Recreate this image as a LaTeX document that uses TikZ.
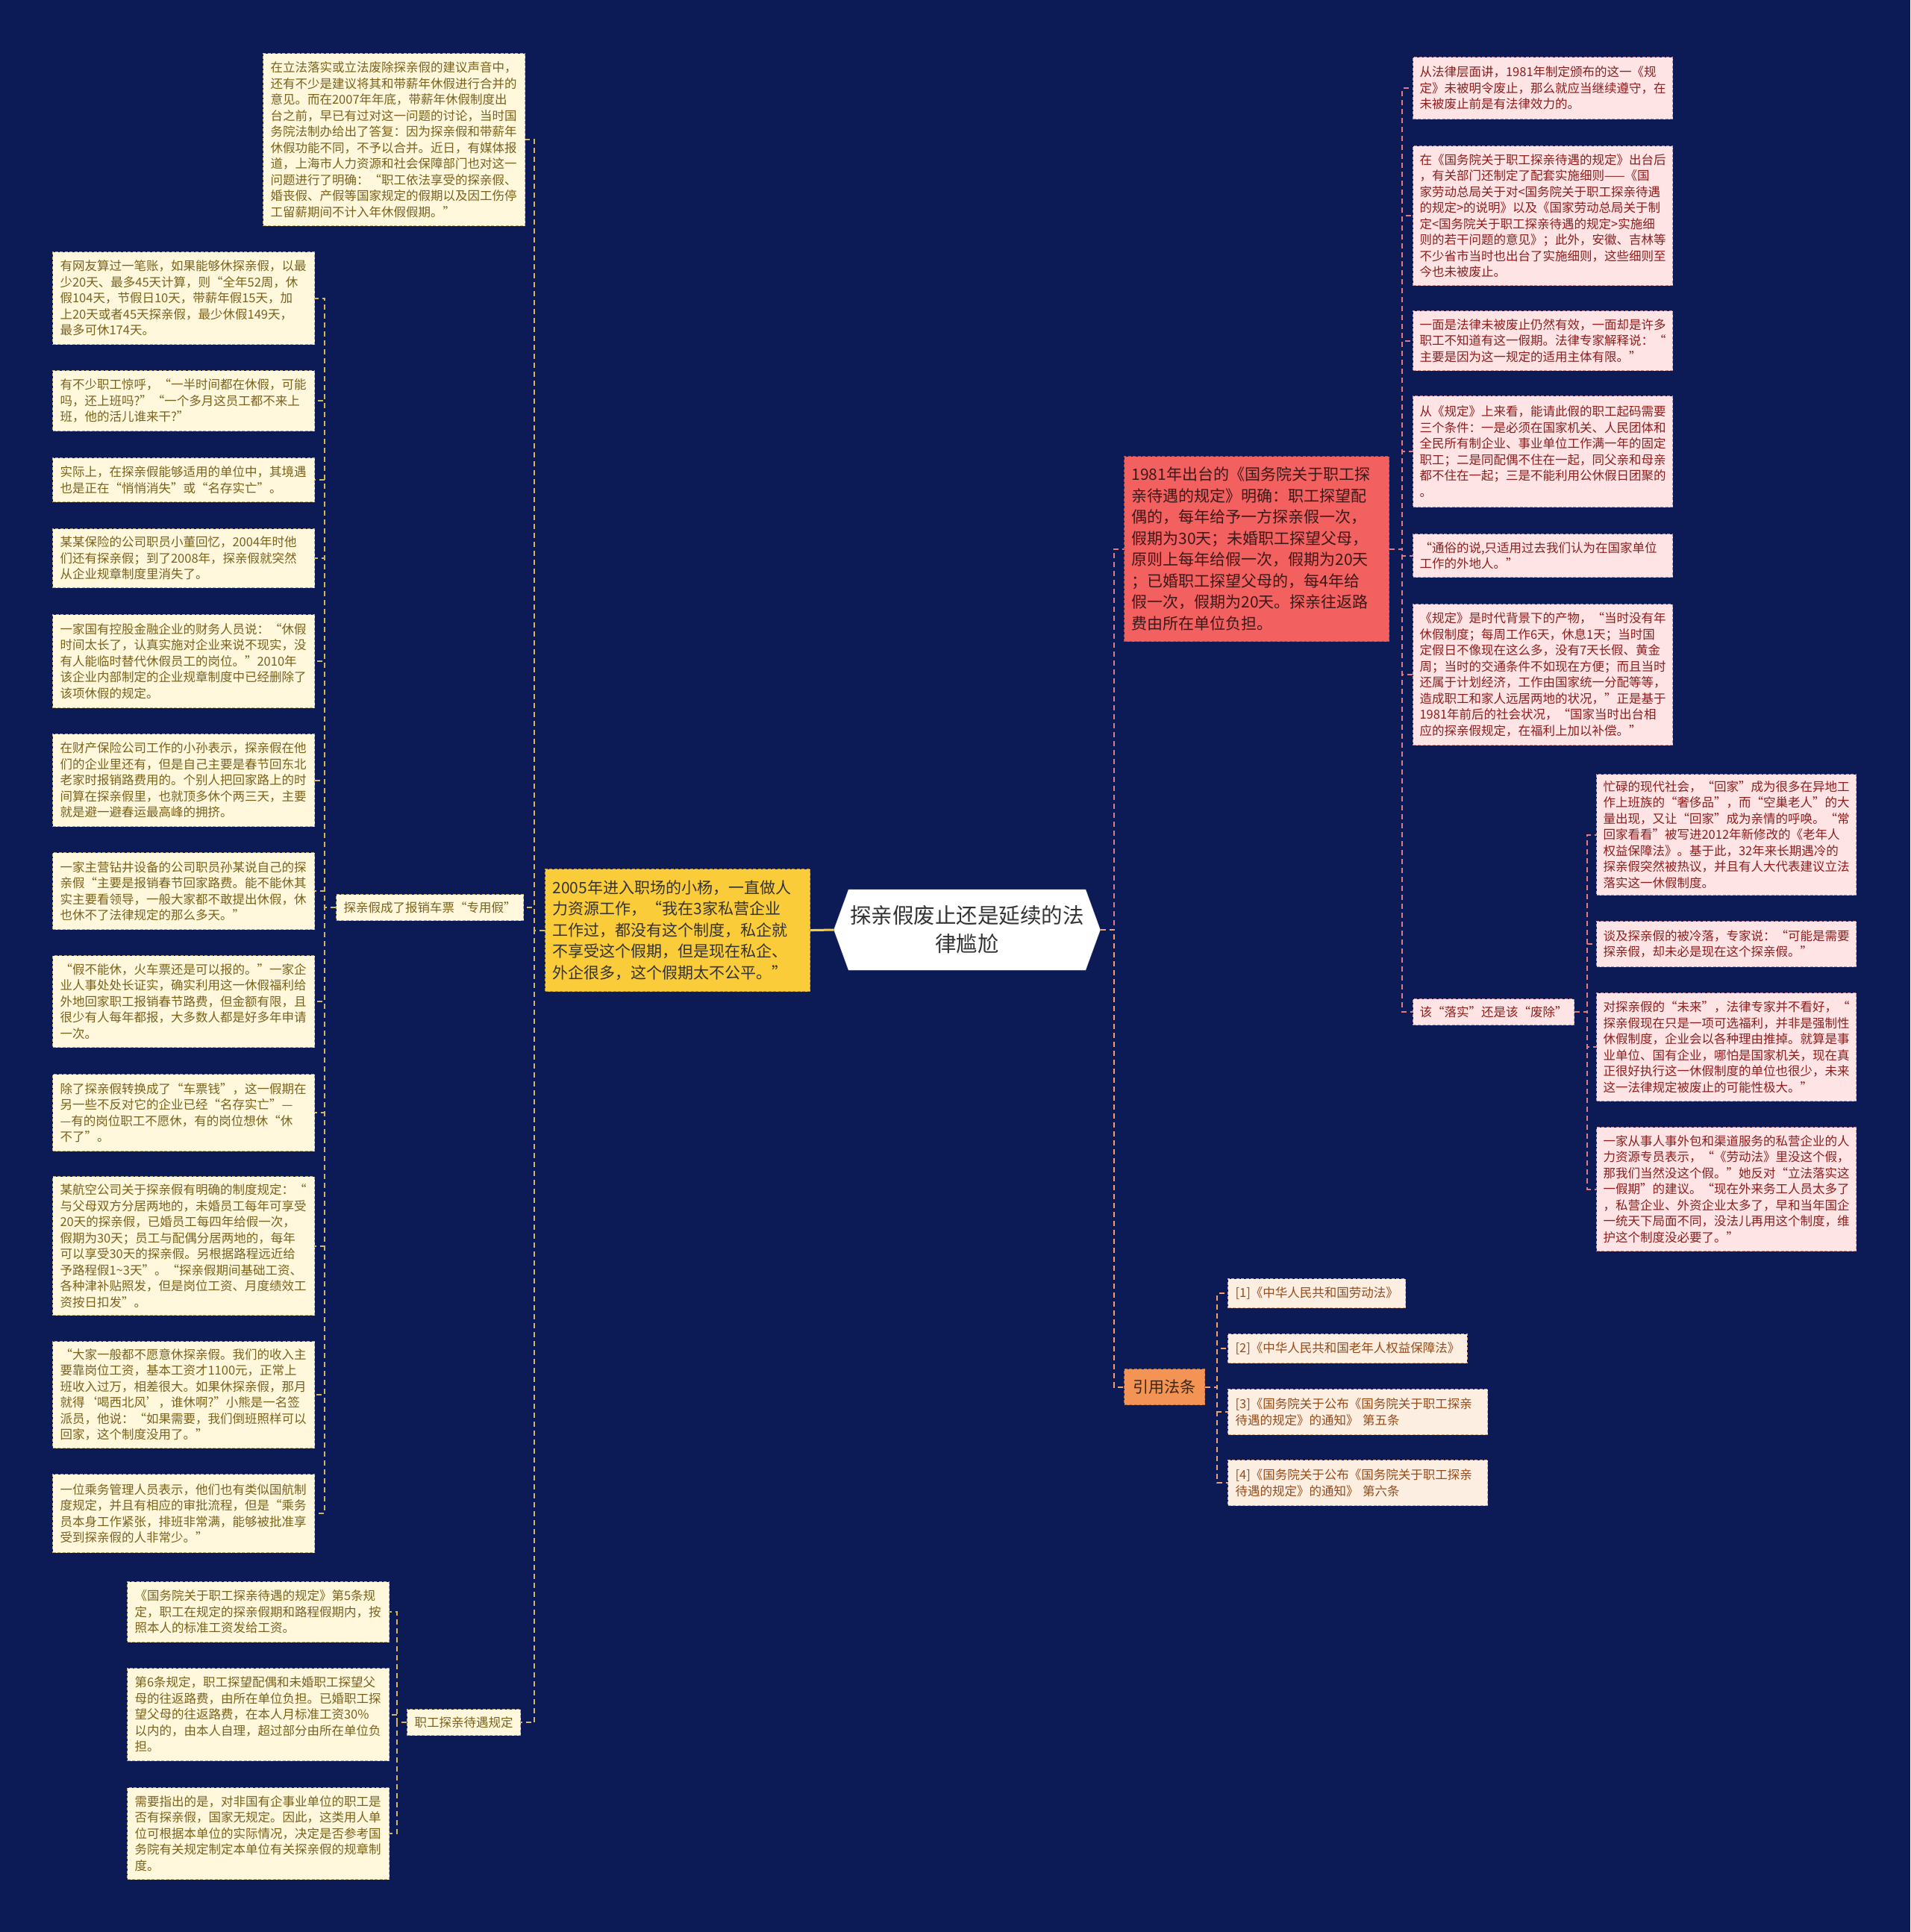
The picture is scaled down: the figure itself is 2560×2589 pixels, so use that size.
\documentclass[tikz,border=0pt]{standalone}
\usepackage{fontspec}
\setmainfont{Noto Sans CJK SC}
\usetikzlibrary{shapes.symbols}
\definecolor{BgNavy}    {RGB}{ 12, 27, 86}
\definecolor{CreamFill} {RGB}{255,248,221}
\definecolor{CreamLine} {RGB}{186,170,120}
\definecolor{CreamText} {RGB}{122, 98, 28}
\definecolor{PinkFill}  {RGB}{254,228,228}
\definecolor{PinkLine}  {RGB}{205,140,150}
\definecolor{PinkText}  {RGB}{140, 30, 30}
\definecolor{PeachFill} {RGB}{253,238,226}
\definecolor{PeachLine} {RGB}{215,170,140}
\definecolor{PeachText} {RGB}{150, 75, 25}
\definecolor{MainYellow}{RGB}{250,204, 58}
\definecolor{MainRed}   {RGB}{243, 96, 96}
\definecolor{MainOrange}{RGB}{244,148, 84}
\definecolor{DarkText}  {RGB}{ 51, 51, 51}
\definecolor{LinkGold}  {RGB}{214,182, 92}
\definecolor{LinkPink}  {RGB}{226,122,132}
\definecolor{LinkOrange}{RGB}{240,160,110}
\tikzset{
  %% 中心主题
  rootbox/.style={shape=signal,signal to=west and east,signal pointer angle=140,
                  fill=white,draw=white!85!black,
                  minimum width=357pt,minimum height=108pt,inner sep=0pt,
                  font=\fontsize{28.5}{38}\selectfont,text=DarkText,align=center},
  %% 一级分支：黄/红/橙
  ybox/.style={rectangle,anchor=north west,fill=MainYellow,draw=MainYellow!75!black,
               dash pattern=on 4pt off 2.5pt,line width=1.1pt,
               text width=335pt,inner xsep=10pt,
               font=\fontsize{21}{28.5}\selectfont,text=DarkText,align=left},
  rbox/.style={rectangle,anchor=north west,fill=MainRed,draw=MainRed!75!black,
               dash pattern=on 4pt off 2.5pt,line width=1.1pt,
               text width=335pt,inner xsep=10pt,
               font=\fontsize{21}{28.5}\selectfont,text=MainRed!25!black,align=left},
  obox/.style={rectangle,anchor=north west,fill=MainOrange,draw=MainOrange!75!black,
               dash pattern=on 4pt off 2.5pt,line width=1.1pt,
               minimum width=108pt,minimum height=48pt,
               font=\fontsize{21}{28}\selectfont,text=MainOrange!25!black},
  %% 叶子框：米色/粉色/浅橙
  cbox/.style={rectangle,anchor=north west,fill=CreamFill,draw=CreamLine,
               dash pattern=on 4pt off 2.5pt,line width=1.1pt,
               text width=331pt,inner xsep=10pt,
               font=\fontsize{16.5}{21.5}\selectfont,text=CreamText,align=left},
  csub/.style={rectangle,anchor=north west,fill=CreamFill,draw=CreamLine,
               dash pattern=on 4pt off 2.5pt,line width=1.1pt,
               minimum height=35pt,inner xsep=10pt,
               font=\fontsize{16.5}{21.5}\selectfont,text=CreamText},
  pbox/.style={rectangle,anchor=north west,fill=PinkFill,draw=PinkLine,
               dash pattern=on 4pt off 2.5pt,line width=1.1pt,
               text width=330pt,inner xsep=9pt,
               font=\fontsize{16.5}{21.5}\selectfont,text=PinkText,align=left},
  psub/.style={rectangle,anchor=north west,fill=PinkFill,draw=PinkLine,
               dash pattern=on 4pt off 2.5pt,line width=1.1pt,
               minimum width=216pt,minimum height=35pt,
               font=\fontsize{16.5}{21.5}\selectfont,text=PinkText},
  rfbox/.style={rectangle,anchor=north west,fill=PeachFill,draw=PeachLine,
                dash pattern=on 4pt off 2.5pt,line width=1.1pt,
                inner xsep=10pt,
                font=\fontsize{16.5}{21.5}\selectfont,text=PeachText,align=left},
  %% 连线
  yroot/.style={draw=MainYellow,line width=3pt},
  ylink/.style={draw=LinkGold,line width=2pt,dash pattern=on 7pt off 5pt},
  plink/.style={draw=LinkPink,line width=2pt,dash pattern=on 7pt off 5pt},
  olink/.style={draw=LinkOrange,line width=2pt,dash pattern=on 7pt off 5pt},
}
\begin{document}
\begin{tikzpicture}[x=1pt,y=-1pt]
    \useasboundingbox (0,0) rectangle (2560,2589);
    \fill[BgNavy] (0,0) rectangle (2560,2589);

    %% 中心
    \node[rootbox] (ROOT) at (1296,1246) {探亲假废止还是延续的法\\律尴尬};

    %% 左侧黄色分支
    \node[ybox,minimum height=164pt] (Y) at (730,1164)
      {2005年进入职场的小杨，一直做人\\力资源工作，“我在3家私营企业\\工作过，都没有这个制度，私企就\\不享受这个假期，但是现在私企、\\外企很多，这个假期太不公平。”};
    \draw[yroot] (ROOT.west) -- (Y.east);

    \node[cbox,minimum height=231pt] (T0) at (352,71)
      {在立法落实或立法废除探亲假的建议声音中，\\还有不少是建议将其和带薪年休假进行合并的\\意见。而在2007年年底，带薪年休假制度出\\台之前，早已有过对这一问题的讨论，当时国\\务院法制办给出了答复：因为探亲假和带薪年\\休假功能不同，不予以合并。近日，有媒体报\\道，上海市人力资源和社会保障部门也对这一\\问题进行了明确：“职工依法享受的探亲假、\\婚丧假、产假等国家规定的假期以及因工伤停\\工留薪期间不计入年休假假期。”};
    \node[csub] (S1) at (450,1198) {探亲假成了报销车票“专用假”};
    \node[csub] (S2) at (545,2290) {职工探亲待遇规定};
    \draw[ylink] (Y.west) -- ++(-14,0) |- (T0.east);
    \draw[ylink] (Y.west) -- ++(-14,0) |- (S1.east);
    \draw[ylink] (Y.west) -- ++(-14,0) |- (S2.east);

    %% 报销车票：左列
    \node[cbox,minimum height=124pt] (L1) at (70,337)
      {有网友算过一笔账，如果能够休探亲假，以最\\少20天、最多45天计算，则“全年52周，休\\假104天，节假日10天，带薪年假15天，加\\上20天或者45天探亲假，最少休假149天，\\最多可休174天。};
    \node[cbox,minimum height=81pt] (L2) at (70,496)
      {有不少职工惊呼，“一半时间都在休假，可能\\吗，还上班吗?”“一个多月这员工都不来上\\班，他的活儿谁来干?”};
    \node[cbox,minimum height=59pt] (L3) at (70,613)
      {实际上，在探亲假能够适用的单位中，其境遇\\也是正在“悄悄消失”或“名存实亡”。};
    \node[cbox,minimum height=79pt] (L4) at (70,708)
      {某某保险的公司职员小董回忆，2004年时他\\们还有探亲假；到了2008年，探亲假就突然\\从企业规章制度里消失了。};
    \node[cbox,minimum height=125pt] (L5) at (70,823)
      {一家国有控股金融企业的财务人员说：“休假\\时间太长了，认真实施对企业来说不现实，没\\有人能临时替代休假员工的岗位。”2010年\\该企业内部制定的企业规章制度中已经删除了\\该项休假的规定。};
    \node[cbox,minimum height=124pt] (L6) at (70,983)
      {在财产保险公司工作的小孙表示，探亲假在他\\们的企业里还有，但是自己主要是春节回东北\\老家时报销路费用的。个别人把回家路上的时\\间算在探亲假里，也就顶多休个两三天，主要\\就是避一避春运最高峰的拥挤。};
    \node[cbox,minimum height=103pt] (L7) at (70,1142)
      {一家主营钻井设备的公司职员孙某说自己的探\\亲假“主要是报销春节回家路费。能不能休其\\实主要看领导，一般大家都不敢提出休假，休\\也休不了法律规定的那么多天。”};
    \node[cbox,minimum height=123pt] (L8) at (70,1280)
      {“假不能休，火车票还是可以报的。”一家企\\业人事处处长证实，确实利用这一休假福利给\\外地回家职工报销春节路费，但金额有限，且\\很少有人每年都报，大多数人都是好多年申请\\一次。};
    \node[cbox,minimum height=103pt] (L9) at (70,1439)
      {除了探亲假转换成了“车票钱”，这一假期在\\另一些不反对它的企业已经“名存实亡”—\\—有的岗位职工不愿休，有的岗位想休“休\\不了”。};
    \node[cbox,minimum height=186pt] (L10) at (70,1576)
      {某航空公司关于探亲假有明确的制度规定：“\\与父母双方分居两地的，未婚员工每年可享受\\20天的探亲假，已婚员工每四年给假一次，\\假期为30天；员工与配偶分居两地的，每年\\可以享受30天的探亲假。另根据路程远近给\\予路程假1\textasciitilde3天”。“探亲假期间基础工资、\\各种津补贴照发，但是岗位工资、月度绩效工\\资按日扣发”。};
    \node[cbox,minimum height=143pt] (L11) at (70,1797)
      {“大家一般都不愿意休探亲假。我们的收入主\\要靠岗位工资，基本工资才1100元，正常上\\班收入过万，相差很大。如果休探亲假，那月\\就得‘喝西北风’，谁休啊?”小熊是一名签\\派员，他说：“如果需要，我们倒班照样可以\\回家，这个制度没用了。”};
    \node[cbox,minimum height=105pt] (L12) at (70,1975)
      {一位乘务管理人员表示，他们也有类似国航制\\度规定，并且有相应的审批流程，但是“乘务\\员本身工作紧张，排班非常满，能够被批准享\\受到探亲假的人非常少。”};
    \draw[ylink] (S1.west) -- ++(-15,0) |- (L1.east);
    \draw[ylink] (S1.west) -- ++(-15,0) |- (L2.east);
    \draw[ylink] (S1.west) -- ++(-15,0) |- (L3.east);
    \draw[ylink] (S1.west) -- ++(-15,0) |- (L4.east);
    \draw[ylink] (S1.west) -- ++(-15,0) |- (L5.east);
    \draw[ylink] (S1.west) -- ++(-15,0) |- (L6.east);
    \draw[ylink] (S1.west) -- ++(-15,0) |- (L7.east);
    \draw[ylink] (S1.west) -- ++(-15,0) |- (L8.east);
    \draw[ylink] (S1.west) -- ++(-15,0) |- (L9.east);
    \draw[ylink] (S1.west) -- ++(-15,0) |- (L10.east);
    \draw[ylink] (S1.west) -- ++(-15,0) |- (L11.east);
    \draw[ylink] (S1.west) -- ++(-15,0) |- (L12.east);

    %% 待遇规定
    \node[cbox,minimum height=81pt] (M1) at (170,2119)
      {《国务院关于职工探亲待遇的规定》第5条规\\定，职工在规定的探亲假期和路程假期内，按\\照本人的标准工资发给工资。};
    \node[cbox,minimum height=124pt] (M2) at (170,2235)
      {第6条规定，职工探望配偶和未婚职工探望父\\母的往返路费，由所在单位负担。已婚职工探\\望父母的往返路费，在本人月标准工资30\%\\以内的，由本人自理，超过部分由所在单位负\\担。};
    \node[cbox,minimum height=123pt] (M3) at (170,2395)
      {需要指出的是，对非国有企事业单位的职工是\\否有探亲假，国家无规定。因此，这类用人单\\位可根据本单位的实际情况，决定是否参考国\\务院有关规定制定本单位有关探亲假的规章制\\度。};
    \draw[ylink] (S2.west) -- ++(-13,0) |- (M1.east);
    \draw[ylink] (S2.west) -- ++(-13,0) |- (M2.east);
    \draw[ylink] (S2.west) -- ++(-13,0) |- (M3.east);

    %% 右侧红色分支
    \node[rbox,minimum height=248pt] (R1) at (1506,611)
      {1981年出台的《国务院关于职工探\\亲待遇的规定》明确：职工探望配\\偶的，每年给予一方探亲假一次，\\假期为30天；未婚职工探望父母，\\原则上每年给假一次，假期为20天\\；已婚职工探望父母的，每4年给\\假一次，假期为20天。探亲往返路\\费由所在单位负担。};
    \node[obox] (CIT) at (1506,1834) {引用法条};
    \draw[plink] (ROOT.east) -- ++(18,0) |- (R1.west);
    \draw[olink] (ROOT.east) -- ++(18,0) |- (CIT.west);

    \node[pbox,minimum height=83pt] (P1) at (1893,76)
      {从法律层面讲，1981年制定颁布的这一《规\\定》未被明令废止，那么就应当继续遵守，在\\未被废止前是有法律效力的。};
    \node[pbox,minimum height=187pt] (P2) at (1893,195)
      {在《国务院关于职工探亲待遇的规定》出台后\\，有关部门还制定了配套实施细则——《国\\家劳动总局关于对<国务院关于职工探亲待遇\\的规定>的说明》以及《国家劳动总局关于制\\定<国务院关于职工探亲待遇的规定>实施细\\则的若干问题的意见》；此外，安徽、吉林等\\不少省市当时也出台了实施细则，这些细则至\\今也未被废止。};
    \node[pbox,minimum height=80pt] (P3) at (1893,416)
      {一面是法律未被废止仍然有效，一面却是许多\\职工不知道有这一假期。法律专家解释说：“\\主要是因为这一规定的适用主体有限。”};
    \node[pbox,minimum height=149pt] (P4) at (1893,530)
      {从《规定》上来看，能请此假的职工起码需要\\三个条件：一是必须在国家机关、人民团体和\\全民所有制企业、事业单位工作满一年的固定\\职工；二是同配偶不住在一起，同父亲和母亲\\都不住在一起；三是不能利用公休假日团聚的\\。};
    \node[pbox,minimum height=58pt] (P5) at (1893,715)
      {“通俗的说,只适用过去我们认为在国家单位\\工作的外地人。”};
    \node[pbox,minimum height=189pt] (P6) at (1893,809)
      {《规定》是时代背景下的产物，“当时没有年\\休假制度；每周工作6天，休息1天；当时国\\定假日不像现在这么多，没有7天长假、黄金\\周；当时的交通条件不如现在方便；而且当时\\还属于计划经济，工作由国家统一分配等等，\\造成职工和家人远居两地的状况，”正是基于\\1981年前后的社会状况，“国家当时出台相\\应的探亲假规定，在福利上加以补偿。”};
    \node[psub] (S3) at (1893,1338) {该“落实”还是该“废除”};
    \draw[plink] (R1.east) -- ++(17,0) |- (P1.west);
    \draw[plink] (R1.east) -- ++(17,0) |- (P2.west);
    \draw[plink] (R1.east) -- ++(17,0) |- (P3.west);
    \draw[plink] (R1.east) -- ++(17,0) |- (P4.west);
    \draw[plink] (R1.east) -- ++(17,0) |- (P5.west);
    \draw[plink] (R1.east) -- ++(17,0) |- (P6.west);
    \draw[plink] (R1.east) -- ++(17,0) |- (S3.west);

    %% 落实 / 废除
    \node[pbox,minimum height=162pt] (U1) at (2139,1037)
      {忙碌的现代社会，“回家”成为很多在异地工\\作上班族的“奢侈品”，而“空巢老人”的大\\量出现，又让“回家”成为亲情的呼唤。“常\\回家看看”被写进2012年新修改的《老年人\\权益保障法》。基于此，32年来长期遇冷的\\探亲假突然被热议，并且有人大代表建议立法\\落实这一休假制度。};
    \node[pbox,minimum height=61pt] (U2) at (2139,1234)
      {谈及探亲假的被冷落，专家说：“可能是需要\\探亲假，却未必是现在这个探亲假。”};
    \node[pbox,minimum height=145pt] (U3) at (2139,1330)
      {对探亲假的“未来”，法律专家并不看好，“\\探亲假现在只是一项可选福利，并非是强制性\\休假制度，企业会以各种理由推掉。就算是事\\业单位、国有企业，哪怕是国家机关，现在真\\正很好执行这一休假制度的单位也很少，未来\\这一法律规定被废止的可能性极大。”};
    \node[pbox,minimum height=166pt] (U4) at (2139,1510)
      {一家从事人事外包和渠道服务的私营企业的人\\力资源专员表示，“《劳动法》里没这个假，\\那我们当然没这个假。”她反对“立法落实这\\一假期”的建议。“现在外来务工人员太多了\\，私营企业、外资企业太多了，早和当年国企\\一统天下局面不同，没法儿再用这个制度，维\\护这个制度没必要了。”};
    \draw[plink] (S3.east) -- ++(17,0) |- (U1.west);
    \draw[plink] (S3.east) -- ++(17,0) |- (U2.west);
    \draw[plink] (S3.east) -- ++(17,0) |- (U3.west);
    \draw[plink] (S3.east) -- ++(17,0) |- (U4.west);

    %% 引用法条
    \node[rfbox,minimum height=39pt] (F1) at (1645,1713) {[1]《中华人民共和国劳动法》};
    \node[rfbox,minimum height=39pt] (F2) at (1645,1787) {[2]《中华人民共和国老年人权益保障法》};
    \node[rfbox,minimum height=61pt,text width=328pt] (F3) at (1645,1861)
      {[3]《国务院关于公布《国务院关于职工探亲\\待遇的规定》的通知》 第五条};
    \node[rfbox,minimum height=61pt,text width=328pt] (F4) at (1645,1956)
      {[4]《国务院关于公布《国务院关于职工探亲\\待遇的规定》的通知》 第六条};
    \draw[olink] (CIT.east) -- ++(16,0) |- (F1.west);
    \draw[olink] (CIT.east) -- ++(16,0) |- (F2.west);
    \draw[olink] (CIT.east) -- ++(16,0) |- (F3.west);
    \draw[olink] (CIT.east) -- ++(16,0) |- (F4.west);
\end{tikzpicture}
\end{document}
